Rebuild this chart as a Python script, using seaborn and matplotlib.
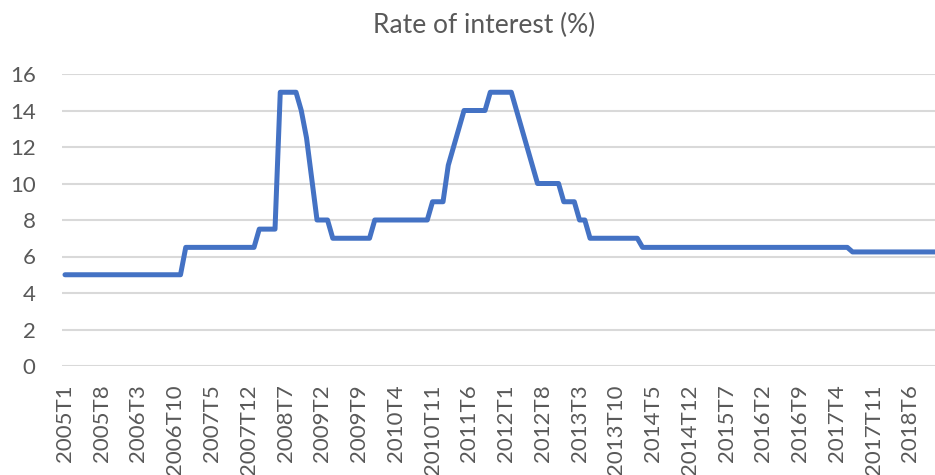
import numpy as np
import pandas as pd
import matplotlib.pyplot as plt
import seaborn as sns

# monthly rate, stored as (level, number of months at that level)
rate_levels = [5.0, 6.5, 7.5, 15.0, 14.0, 12.5, 10.25, 8.0, 7.0, 8.0, 9.0, 11.0, 12.0, 13.0,
               14.0, 15.0, 14.0, 13.0, 12.0, 11.0, 10.0, 9.0, 8.0, 7.0, 6.5, 6.25]
months_at_level = [23, 14, 4, 4, 1, 1, 1, 3, 8, 11, 3, 1, 1, 1,
                   5, 5, 1, 1, 1, 1, 5, 3, 2, 10, 40, 18]

years = list(range(2005, 2019))
tick_labels = ["2005T1", "2005T8", "2006T3", "2006T10", "2007T5", "2007T12", "2008T7",
               "2009T2", "2009T9", "2010T4", "2010T11", "2011T6", "2012T1", "2012T8",
               "2013T3", "2013T10", "2014T5", "2014T12", "2015T7", "2016T2", "2016T9",
               "2017T4", "2017T11", "2018T6"]

periods = [f"{y}T{m}" for y in years for m in range(1, 13)]
rate = np.repeat(rate_levels, months_at_level)
df = pd.DataFrame({"period": periods, "rate": rate})
df["pos"] = np.arange(len(df))

sns.set_style("white")
plt.rcParams['font.family'] = ['Lato', 'DejaVu Sans']
grey = "#595959"

fig = plt.figure(figsize=(9.35, 4.75), dpi=100)
ax = fig.add_axes([62 / 935, 109 / 475, 873 / 935, 292 / 475])

sns.lineplot(data=df, x="pos", y="rate", ax=ax, color="#4472C4", linewidth=3.6)

ax.set_ylim(0, 16)
ax.set_yticks(range(0, 17, 2))
# categories are 5.25 px wide, the picture is cut off before the last month
ax.set_xlim(-0.57, 165.7)
tick_pos = [periods.index(t) for t in tick_labels]
ax.set_xticks(tick_pos)
ax.set_xticklabels(tick_labels, rotation=90)
ax.grid(axis="y", color="#d9d9d9", linewidth=1.5)
ax.set_axisbelow(True)
for s in ax.spines.values():
    s.set_visible(False)
ax.tick_params(axis="y", length=0, pad=19, labelsize=16, labelcolor=grey)
ax.tick_params(axis="x", length=0, pad=13, labelsize=16, labelcolor=grey)
ax.set_xlabel("")
ax.set_ylabel("")

fig.text(484 / 935, 1 - 25 / 475, "Rate of interest (%)", ha="center", va="center",
         fontsize=19, color=grey)

fig.savefig("out.png", dpi=100)
